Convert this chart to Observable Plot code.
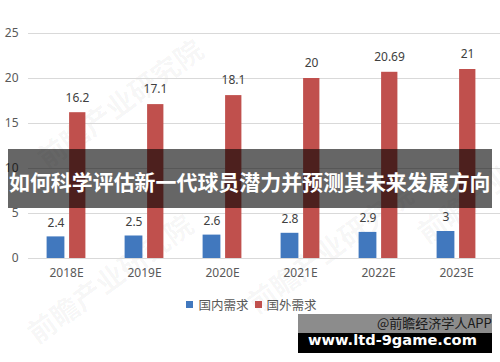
<!DOCTYPE html>
<html>
<head>
<meta charset="utf-8">
<script src="https://cdn.jsdelivr.net/npm/d3@7"></script>
<script src="https://cdn.jsdelivr.net/npm/@observablehq/plot@0.6"></script>
<style>
  html, body { margin: 0; padding: 0; background: #fff; }
  #wrap { position: relative; width: 500px; height: 362px; overflow: hidden; font-family: "Noto Sans", "Noto Sans CJK SC", sans-serif; }
  #chart { position: absolute; left: 0; top: 0; }
  .wm { position: absolute; color: rgba(0,0,0,0.045); font-family: "Noto Sans CJK SC", sans-serif; font-weight: bold; white-space: nowrap; transform-origin: left center; }
  #legend { position: absolute; top: 295px; left: 0; width: 503px; display: flex; justify-content: center; align-items: center; font-family: "Noto Sans CJK SC", sans-serif; font-size: 12.5px; color: #595959; }
  #legend .sw { display: inline-block; width: 7px; height: 7px; margin-right: 5px; }
  #legend .item { display: flex; align-items: center; margin: 0 3px; }
  #band { position: absolute; left: 8px; top: 149px; width: 484px; height: 59px; background: rgba(0,0,0,0.6); }
  .fit { position: absolute; white-space: nowrap; display: inline-block; }
  #title { color: #fff; font-family: "Noto Sans CJK SC", sans-serif; font-weight: bold; font-size: 22px; line-height: 1; }
  #src { left: 378px; top: 314px; font-family: "Noto Sans CJK SC", sans-serif; font-size: 13px; color: #333; line-height: 18px; }
  #greybox { position: absolute; left: 298px; top: 314px; width: 194px; height: 20px; background: rgba(0,0,0,0.45); }
  #blackbox { position: absolute; left: 298px; top: 333px; width: 194px; height: 20px; background: #000; }
  #url { color: #fff; font-family: "DejaVu Sans", sans-serif; font-weight: bold; font-size: 17px; line-height: 1; }
</style>
</head>
<body>
<div id="wrap">
  <div class="wm" style="left:40px; top:140px; font-size:28px; transform: rotate(-36deg);">前瞻产业研究院</div>
  <div class="wm" style="left:30px; top:315px; font-size:28px; transform: rotate(-36deg);">前瞻产业研究院</div>
  <div class="wm" style="left:250px; top:285px; font-size:28px; transform: rotate(-36deg);">前瞻产业研究院</div>
  <div class="wm" style="left:420px; top:215px; font-size:28px; transform: rotate(-36deg);">前瞻产业研究院</div>
  <div id="chart"></div>
  <div id="legend"></div>
  <div id="band"></div>
  <span id="title" class="fit">如何科学评估新一代球员潜力并预测其未来发展方向</span>
  <span id="src" class="fit">@前瞻经济学人APP</span>
  <div id="greybox"></div>
  <div id="blackbox"></div>
  <span id="url" class="fit">www.ltd-9game.com</span>
</div>
<script>
const years = ["2018E", "2019E", "2020E", "2021E", "2022E", "2023E"];
const domestic = [2.4, 2.5, 2.6, 2.8, 2.9, 3];
const foreign = [16.2, 17.1, 18.1, 20, 20.69, 21];
const seriesNames = ["国内需求", "国外需求"];
const seriesColors = ["#4178be", "#c0504d"];
const yTicks = [0, 5, 10, 15, 20, 25];

const domData = years.map((y, i) => ({year: y, value: domestic[i]}));
const forData = years.map((y, i) => ({year: y, value: foreign[i]}));

const chart = Plot.plot({
  width: 500,
  height: 290,
  marginLeft: 26,
  marginRight: 5,
  marginTop: 33,
  marginBottom: 32,
  style: {fontFamily: "'Noto Sans', sans-serif", fontSize: "12px", color: "#595959", background: "transparent"},
  x: {domain: years, padding: 0, label: null, tickSize: 0, tickPadding: 10},
  y: {domain: [0, 25], ticks: yTicks, label: null, tickSize: 0, tickPadding: 8},
  marks: [
    Plot.ruleY(yTicks, {stroke: "#d9d9d9", strokeWidth: 1, insetLeft: 2, insetRight: -5}),
    Plot.barY(domData, {x: "year", y: "value", fill: seriesColors[0], insetLeft: 19.6, insetRight: 40.6}),
    Plot.barY(forData, {x: "year", y: "value", fill: seriesColors[1], insetLeft: 42.1, insetRight: 19.6}),
    Plot.text(domData, {x: "year", y: "value", text: d => String(d.value), dx: -10.5, dy: -14, fill: "#404040", fontSize: 12}),
    Plot.text(forData, {x: "year", y: "value", text: d => String(d.value), dx: 11, dy: -15, fill: "#404040", fontSize: 12})
  ]
});
document.getElementById("chart").appendChild(chart);

const legend = document.getElementById("legend");
seriesNames.forEach((name, i) => {
  const item = document.createElement("div");
  item.className = "item";
  const sw = document.createElement("span");
  sw.className = "sw";
  sw.style.background = seriesColors[i];
  const t = document.createElement("span");
  t.textContent = name;
  item.appendChild(sw);
  item.appendChild(t);
  legend.appendChild(item);
});

// fit a text element to a target box: left, width, vertical center
function fit(id, left, width, cy) {
  const el = document.getElementById(id);
  const fs = parseFloat(getComputedStyle(el).fontSize);
  const w = el.getBoundingClientRect().width;
  el.style.fontSize = (fs * width / w) + "px";
  const r = el.getBoundingClientRect();
  el.style.left = left + "px";
  el.style.top = (cy - r.height / 2) + "px";
}
fit("title", 9, 482, 181);
fit("url", 308, 169, 340);
fit("src", 377, 115, 323);
</script>
</body>
</html>
